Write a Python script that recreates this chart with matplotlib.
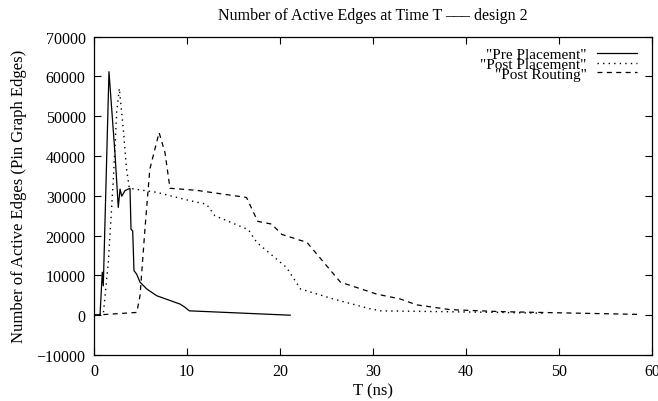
import matplotlib

matplotlib.use('Agg')
import matplotlib.pyplot as plt

# --- data ---
pre_t = [0, 0.65, 0.89, 1.0, 1.61, 2.26, 2.61, 2.8, 2.98, 3.33, 3.87, 3.98, 4.16,
         4.3, 4.59, 4.95, 5.67, 6.74, 9.25, 9.78, 10.25, 21.1]
pre_v = [0, 100, 10800, 7400, 61200, 40500, 27100, 31700, 29900, 31300, 31900,
         21600, 21200, 11200, 10300, 8300, 6600, 4900, 2800, 2000, 1100, 0]

post_t = [0, 1.0, 1.54, 2.08, 2.44, 2.72, 3.15, 3.5, 3.8, 6.7, 10.3, 12.1, 13.0,
          16.6, 17.5, 20.7, 22.2, 25.7, 29.7, 30.8, 43.7, 48.3]
post_v = [0, 300, 13300, 34200, 51000, 57000, 46800, 36700, 31900, 30900, 28800,
          27900, 25000, 21500, 18300, 12000, 6600, 4100, 1600, 1100, 700, 500]

route_t = [0, 4.6, 4.95, 5.48, 6.0, 7.0, 7.63, 8.17, 11.0, 16.4, 17.6, 19.1, 20.2,
           22.9, 26.5, 30.4, 32.9, 34.7, 38.3, 43.7, 58.7]
route_v = [0, 700, 4900, 21700, 36700, 45900, 40900, 31900, 31400, 29600, 23600,
           22900, 20300, 18300, 8300, 5300, 4100, 2600, 1400, 900, 200]

x_ticks = [0, 10, 20, 30, 40, 50, 60]
y_ticks = [-10000, 0, 10000, 20000, 30000, 40000, 50000, 60000, 70000]

plt.rcParams['font.family'] = ['Liberation Serif', 'DejaVu Serif']
plt.rcParams['font.size'] = 12
plt.rcParams['axes.unicode_minus'] = True

fig = plt.figure(figsize=(6.58, 4.02), dpi=100)
ax = fig.add_axes([94 / 658, 46 / 402, 558 / 658, 318.3 / 402])

ax.plot(pre_t, pre_v, color='black', lw=0.9, label='"Pre Placement"')
ax.plot(post_t, post_v, color='black', lw=1.0, linestyle=(0, (1, 3)),
        label='"Post Placement"')
ax.plot(route_t, route_v, color='black', lw=0.9, linestyle=(0, (4, 3.5)),
        label='"Post Routing"')

ax.set_xlim(0, 60)
ax.set_ylim(-10000, 70000)
ax.set_xticks(x_ticks)
ax.set_yticks(y_ticks)
ax.tick_params(direction='in', length=5, width=0.8, top=True, right=True, pad=6,
               labelsize=11.5)
for s in ax.spines.values():
    s.set_linewidth(0.9)

ax.set_xlabel('T (ns)', labelpad=2)
ax.set_ylabel('Number of Active Edges (Pin Graph Edges)', labelpad=7)
ax.set_title('Number of Active Edges at Time T \u2013\u2013\u2013 design 2',
             fontsize=11.5, pad=13)

ax.legend(loc='upper right', bbox_to_anchor=(1 - 15 / 558, 1 - 11 / 318),
          frameon=False, markerfirst=False, handlelength=2.6, handletextpad=0.7,
          labelspacing=-0.27, borderaxespad=0, borderpad=0, fontsize=11)

fig.savefig('out.png', dpi=100)
